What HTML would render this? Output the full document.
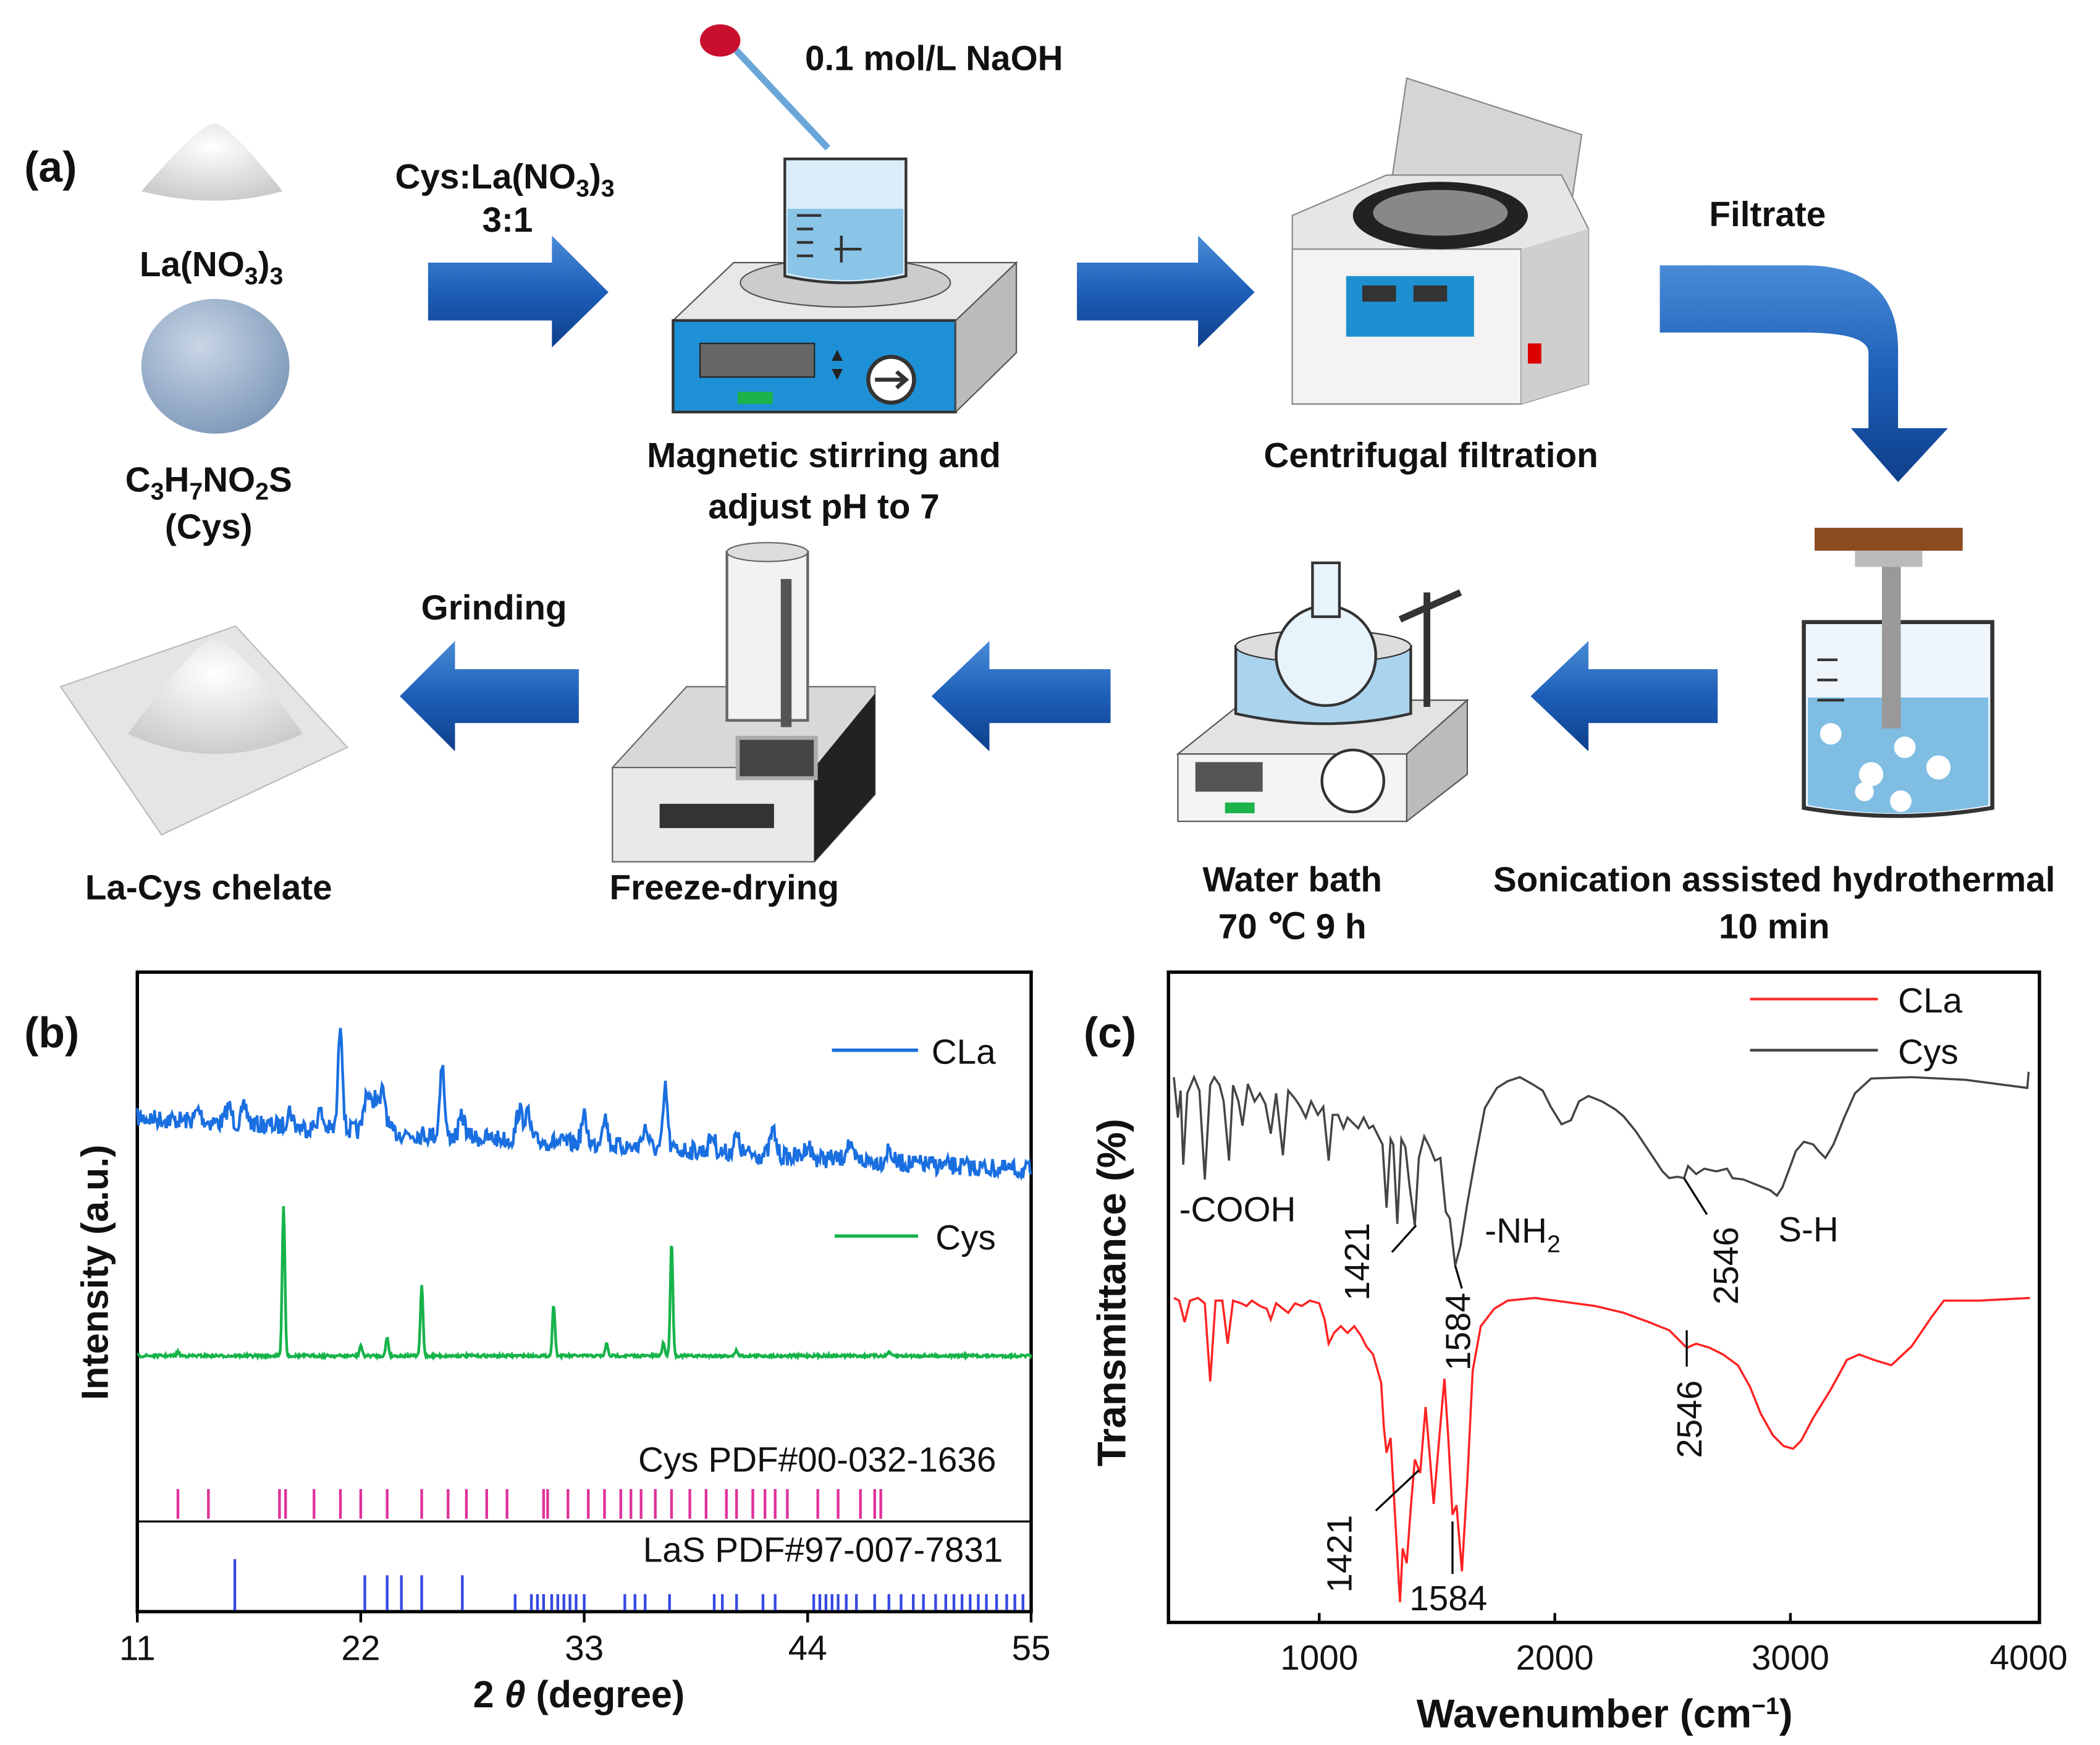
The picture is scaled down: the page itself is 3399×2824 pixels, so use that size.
<!DOCTYPE html>
<html><head><meta charset="utf-8"><style>
html,body{margin:0;padding:0;background:#fff;}
svg{display:block;}
text{font-family:"Liberation Sans",Arial,sans-serif;}
.b{font-weight:bold;font-size:26px;fill:#111;}
.t{font-size:26px;fill:#111;}
</style></head><body>
<svg id="s" width="3399" height="2824" viewBox="0 0 1560 1296" xmlns="http://www.w3.org/2000/svg">
<defs>
<linearGradient id="ar" x1="0" y1="0" x2="0" y2="1"><stop offset="0" stop-color="#4a8bd6"/><stop offset="0.5" stop-color="#1d5fb8"/><stop offset="1" stop-color="#0f3f8a"/></linearGradient>
<radialGradient id="sph" cx="0.4" cy="0.35" r="0.7"><stop offset="0" stop-color="#c9d6e6"/><stop offset="1" stop-color="#7d98b8"/></radialGradient>
<radialGradient id="pw" cx="0.5" cy="0.3" r="0.7"><stop offset="0" stop-color="#fff"/><stop offset="1" stop-color="#ccc"/></radialGradient>
</defs>

<!-- ===== (a) ===== -->
<text x="18" y="135" class="b" style="font-size:32px">(a)</text>
<path d="M105 142 Q150 90 160 92 Q170 92 210 142 Q160 156 105 142Z" fill="url(#pw)"/>
<text x="157" y="205" class="b" text-anchor="middle">La(NO<tspan font-size="18" dy="6">3</tspan><tspan dy="-6">)</tspan><tspan font-size="18" dy="6">3</tspan></text>
<ellipse cx="160" cy="272" rx="55" ry="50" fill="url(#sph)"/>
<text x="155" y="365" class="b" text-anchor="middle">C<tspan font-size="18" dy="6">3</tspan><tspan dy="-6">H</tspan><tspan font-size="18" dy="6">7</tspan><tspan dy="-6">NO</tspan><tspan font-size="18" dy="6">2</tspan><tspan dy="-6">S</tspan></text>
<text x="155" y="400" class="b" text-anchor="middle">(Cys)</text>

<path d="M318 195 H410 V175 L452 217 L410 258 V238 H318Z" fill="url(#ar)"/>
<path d="M800 195 H890 V175 L932 217 L890 258 V238 H800Z" fill="url(#ar)"/>
<text x="375" y="140" class="b" text-anchor="middle">Cys:La(NO<tspan font-size="18" dy="6">3</tspan><tspan dy="-6">)</tspan><tspan font-size="18" dy="6">3</tspan></text>
<text x="377" y="172" class="b" text-anchor="middle">3:1</text>

<!-- stirrer -->
<path d="M500 238 L545 195 H755 L710 238Z" fill="#e8e8e8" stroke="#555"/>
<rect x="500" y="238" width="210" height="68" fill="#1e90d6" stroke="#333" stroke-width="2"/>
<path d="M710 238 L755 195 V262 L710 306Z" fill="#bbb" stroke="#555"/>
<rect x="520" y="255" width="85" height="25" fill="#666" stroke="#222"/>
<rect x="548" y="291" width="26" height="9" fill="#1bb34a"/>
<circle cx="662" cy="282" r="17" fill="#fff" stroke="#333" stroke-width="3"/>
<path d="M650 282 H672 M666 276 L673 282 L666 288" stroke="#333" stroke-width="3" fill="none"/>
<text x="615" y="268" font-size="14" fill="#222">▲</text><text x="615" y="282" font-size="14" fill="#222">▼</text>
<ellipse cx="628" cy="210" rx="78" ry="18" fill="#ccc" stroke="#555"/>
<path d="M583 118 H673 V205 Q628 215 583 205Z" fill="#d9eef9" stroke="#333" stroke-width="2"/>
<path d="M585 155 H671 V203 Q628 213 585 203Z" fill="#8ac5e8"/>
<path d="M592 170 H604 M592 180 H604 M592 190 H604 M592 160 H610" stroke="#333" stroke-width="2"/>
<path d="M620 185 H640 M625 175 V195" stroke="#333" stroke-width="2"/>
<path d="M540 30 L615 110" stroke="#6aa7d8" stroke-width="5"/>
<ellipse cx="535" cy="30" rx="15" ry="12" fill="#c8102e"/>
<text x="598" y="52" class="b">0.1 mol/L NaOH</text>
<text x="612" y="347" class="b" text-anchor="middle">Magnetic stirring and</text>
<text x="612" y="385" class="b" text-anchor="middle">adjust pH to 7</text>

<!-- centrifuge -->
<path d="M1045 58 L1175 100 L1160 200 L1030 160Z" fill="#d5d5d5" stroke="#888"/>
<path d="M960 160 L1030 130 H1160 L1180 170 V285 L1130 300 H960Z" fill="#e6e6e6" stroke="#888"/>
<rect x="960" y="185" width="170" height="115" fill="#f3f3f3" stroke="#888"/>
<path d="M1130 185 L1180 170 V285 L1130 300Z" fill="#cfcfcf"/>
<ellipse cx="1070" cy="160" rx="65" ry="25" fill="#222"/>
<ellipse cx="1070" cy="158" rx="50" ry="17" fill="#888"/>
<rect x="1000" y="205" width="95" height="45" fill="#1e8fd0"/>
<rect x="1012" y="212" width="25" height="12" fill="#333"/><rect x="1050" y="212" width="25" height="12" fill="#333"/>
<rect x="1135" y="255" width="10" height="15" fill="#d00"/>
<text x="1063" y="347" class="b" text-anchor="middle">Centrifugal filtration</text>

<text x="1313" y="168" class="b" text-anchor="middle">Filtrate</text>
<path d="M1233 197 H1340 Q1410 197 1410 260 V318 H1447 L1410 358 L1375 318 H1388 V262 Q1388 247 1340 247 H1233Z" fill="url(#ar)"/>

<!-- sonicator -->
<rect x="1348" y="392" width="110" height="17" fill="#8b4a1f"/>
<rect x="1378" y="409" width="50" height="12" fill="#bbb"/>
<path d="M1340 462 H1480 V600 Q1410 612 1340 600Z" fill="#eef6fb" stroke="#333" stroke-width="3"/>
<path d="M1343 518 H1477 V598 Q1410 610 1343 598Z" fill="#7fbde3"/>
<rect x="1398" y="421" width="14" height="120" fill="#999"/>
<circle cx="1360" cy="545" r="8" fill="#fff"/><circle cx="1390" cy="575" r="9" fill="#fff"/><circle cx="1415" cy="555" r="8" fill="#fff"/><circle cx="1440" cy="570" r="9" fill="#fff"/><circle cx="1412" cy="595" r="8" fill="#fff"/><circle cx="1385" cy="588" r="7" fill="#fff"/>
<path d="M1350 490 H1365 M1350 505 H1365 M1350 520 H1370" stroke="#333" stroke-width="2"/>
<text x="1318" y="662" class="b" text-anchor="middle">Sonication assisted hydrothermal</text>
<text x="1318" y="697" class="b" text-anchor="middle">10 min</text>

<path d="M1276 497 H1180 V476 L1137 517 L1180 558 V537 H1276Z" fill="url(#ar)"/>
<path d="M825 497 H735 V476 L692 517 L735 558 V537 H825Z" fill="url(#ar)"/>
<path d="M430 497 H338 V476 L297 517 L338 558 V537 H430Z" fill="url(#ar)"/>
<text x="367" y="460" class="b" text-anchor="middle">Grinding</text>

<!-- water bath -->
<path d="M875 560 L925 520 H1090 L1045 560Z" fill="#e3e3e3" stroke="#555"/>
<rect x="875" y="560" width="170" height="50" fill="#f4f4f4" stroke="#555"/>
<path d="M1045 560 L1090 520 V575 L1045 610Z" fill="#bbb" stroke="#555"/>
<rect x="888" y="566" width="50" height="22" fill="#555"/>
<rect x="910" y="596" width="22" height="8" fill="#1bb34a"/>
<circle cx="1005" cy="580" r="23" fill="#fff" stroke="#333" stroke-width="2"/>
<path d="M918 480 V530 Q985 545 1048 530 V480Z" fill="#aad3ee" stroke="#333" stroke-width="2"/>
<ellipse cx="983" cy="480" rx="65" ry="12" fill="#ddd" stroke="#333"/>
<circle cx="985" cy="487" r="37" fill="#e8f4fb" stroke="#333" stroke-width="2"/>
<rect x="975" y="418" width="20" height="40" fill="#e8f4fb" stroke="#333" stroke-width="2"/>
<path d="M1060 440 V525 M1040 460 L1085 440" stroke="#333" stroke-width="5"/>
<text x="960" y="662" class="b" text-anchor="middle">Water bath</text>
<text x="960" y="697" class="b" text-anchor="middle">70 ℃ 9 h</text>

<!-- freeze dryer -->
<path d="M455 570 L510 510 H650 V590 L605 640 H455Z" fill="#d8d8d8" stroke="#666"/>
<rect x="455" y="570" width="150" height="70" fill="#e9e9e9" stroke="#666"/>
<path d="M605 570 L650 515 V590 L605 640Z" fill="#222"/>
<rect x="548" y="548" width="58" height="30" fill="#444" stroke="#aaa" stroke-width="3"/>
<rect x="490" y="597" width="85" height="18" fill="#333"/>
<rect x="540" y="410" width="60" height="125" fill="#f2f2f2" stroke="#666" stroke-width="2"/>
<ellipse cx="570" cy="410" rx="30" ry="7" fill="#ddd" stroke="#666"/>
<rect x="580" y="430" width="8" height="110" fill="#555"/>
<text x="538" y="668" class="b" text-anchor="middle">Freeze-drying</text>

<path d="M45 510 L175 465 L258 555 L120 620Z" fill="#e5e5e5" stroke="#bbb"/>
<path d="M95 545 Q150 470 160 475 Q180 480 225 545 Q160 575 95 545Z" fill="url(#pw)"/>
<text x="155" y="668" class="b" text-anchor="middle">La-Cys chelate</text>

<!-- ===== (b) ===== -->
<text x="18" y="778" class="b" style="font-size:32px">(b)</text>
<rect x="102" y="722" width="664" height="475" fill="none" stroke="#000" stroke-width="2.5"/>
<line x1="102" y1="1130" x2="766" y2="1130" stroke="#000" stroke-width="1.5"/>
<g id="bticks"></g>
<text x="102" y="1233" class="t" text-anchor="middle">11</text>
<text x="268" y="1233" class="t" text-anchor="middle">22</text>
<text x="434" y="1233" class="t" text-anchor="middle">33</text>
<text x="600" y="1233" class="t" text-anchor="middle">44</text>
<text x="766" y="1233" class="t" text-anchor="middle">55</text>
<text x="430" y="1268" class="b" style="font-size:28px" text-anchor="middle">2 <tspan font-style="italic">θ</tspan> (degree)</text>
<text transform="translate(80,945) rotate(-90)" class="b" style="font-size:28px" text-anchor="middle">Intensity (a.u.)</text>
<line x1="618" y1="780" x2="682" y2="780" stroke="#1a6fe0" stroke-width="2.5"/><text x="692" y="790" class="t">CLa</text>
<line x1="620" y1="918" x2="682" y2="918" stroke="#16b34a" stroke-width="2.5"/><text x="695" y="928" class="t">Cys</text>
<path id="cla" fill="none" stroke="#1a6fe0" stroke-width="2"/>
<path id="cysb" fill="none" stroke="#16b34a" stroke-width="2"/>
<g id="mag" stroke="#e0309a" stroke-width="2"></g>
<g id="bl" stroke="#3448e0" stroke-width="2"></g>
<text x="740" y="1093" class="t" text-anchor="end">Cys PDF#00-032-1636</text>
<text x="745" y="1160" class="t" text-anchor="end">LaS PDF#97-007-7831</text>

<!-- ===== (c) ===== -->
<text x="805" y="778" class="b" style="font-size:32px">(c)</text>
<rect x="868" y="722" width="647" height="483" fill="none" stroke="#000" stroke-width="2.5"/>
<g stroke="#000" stroke-width="2"><line x1="980" y1="1205" x2="980" y2="1198"/><line x1="1155" y1="1205" x2="1155" y2="1198"/><line x1="1330" y1="1205" x2="1330" y2="1198"/></g>
<text x="980" y="1240" class="t" text-anchor="middle">1000</text>
<text x="1155" y="1240" class="t" text-anchor="middle">2000</text>
<text x="1330" y="1240" class="t" text-anchor="middle">3000</text>
<text x="1507" y="1240" class="t" text-anchor="middle">4000</text>
<text x="1192" y="1283" class="b" style="font-size:30px" text-anchor="middle">Wavenumber (cm<tspan font-size="18" dy="-10">−1</tspan><tspan dy="10">)</tspan></text>
<text transform="translate(836,960) rotate(-90)" class="b" style="font-size:30px" text-anchor="middle">Transmittance (%)</text>
<line x1="1300" y1="742" x2="1395" y2="742" stroke="#f33" stroke-width="2"/><text x="1410" y="752" class="t">CLa</text>
<line x1="1300" y1="780" x2="1395" y2="780" stroke="#444" stroke-width="2"/><text x="1410" y="790" class="t">Cys</text>
<path id="cysc" fill="none" stroke="#444" stroke-width="1.6"/>
<path id="clac" fill="none" stroke="#f22" stroke-width="1.6"/>
<text x="876" y="907" class="t">-COOH</text>
<text x="1103" y="923" class="t">-NH<tspan font-size="18" dy="7">2</tspan></text>
<text x="1321" y="922" class="t">S-H</text>
<text transform="translate(1017,966) rotate(-90)" class="t">1421</text>
<text transform="translate(1092,1018) rotate(-90)" class="t">1584</text>
<text transform="translate(1291,969) rotate(-90)" class="t">2546</text>
<text transform="translate(1264,1083) rotate(-90)" class="t">2546</text>
<text transform="translate(1004,1183) rotate(-90)" class="t">1421</text>
<text x="1047" y="1196" class="t">1584</text>
<g stroke="#000" stroke-width="1.5">
<line x1="1034" y1="930" x2="1052" y2="910"/><line x1="1081" y1="940" x2="1086" y2="957"/>
<line x1="1251" y1="875" x2="1268" y2="902"/><line x1="1253" y1="988" x2="1253" y2="1015"/>
<line x1="1022" y1="1122" x2="1054" y2="1092"/><line x1="1079" y1="1130" x2="1079" y2="1169"/>
</g>
</svg>
<script>
var NS="http://www.w3.org/2000/svg";
function bx(v){return 102+(v-11)*15.09;}
var bt=document.getElementById('bticks');
[11,22,33,44,55].forEach(function(v){var l=document.createElementNS(NS,'line');l.setAttribute('x1',bx(v));l.setAttribute('x2',bx(v));l.setAttribute('y1',1197);l.setAttribute('y2',1205);l.setAttribute('stroke','#000');l.setAttribute('stroke-width',2);bt.appendChild(l);});
var seed=7;function rnd(){seed=(seed*16807)%2147483647;return seed/2147483647;}
function peaks(v,list,w){var s=0;list.forEach(function(p){var d=(v-p[0])/(p[2]||w);s+=p[1]*Math.exp(-d*d);});return s;}
var cp=[[21,80,0.15],[26,55,0.15],[37,45,0.15],[22.3,30],[23.1,30],[22.7,25],[29.8,22],[30.2,20],[33,20],[34,22],[36,15],[42.3,18],[18.5,12],[15.5,12],[16.3,12],[14,8],[20,12],[27,15],[39.3,12],[40.5,12],[44,10],[46,12],[48,10]];
var d="";for(var v=11;v<=55;v+=0.05){var base=830+(v-11)*0.9;var y=base+(rnd()-0.5)*14-peaks(v,cp,0.2);d+=(d?"L":"M")+bx(v).toFixed(1)+" "+y.toFixed(1);}
document.getElementById('cla').setAttribute('d',d);
var gp=[[18.2,112],[37.3,85],[25,52],[31.5,38],[23.3,14],[22,8],[34.1,9],[36.9,10],[13,3],[40.5,4],[48,3]];
d="";for(v=11;v<=55;v+=0.04){var y=1007+(rnd()-0.5)*2-peaks(v,gp,0.09);d+=(d?"L":"M")+bx(v).toFixed(1)+" "+y.toFixed(1);}
document.getElementById('cysb').setAttribute('d',d);
var mg=[13,14.5,18,18.3,19.7,21,22,23.3,25,26.3,27.2,28.2,29.2,31,31.2,32.2,33.2,34,34.8,35.3,35.8,36.5,37.3,38.2,39,40,40.5,41.3,41.9,42.4,43,44.5,45.5,46.6,47.3,47.6];
var g=document.getElementById('mag');mg.forEach(function(v){var l=document.createElementNS(NS,'line');l.setAttribute('x1',bx(v));l.setAttribute('x2',bx(v));l.setAttribute('y1',1106);l.setAttribute('y2',1128);g.appendChild(l);});
var bl=[15.8,22.2,23.3,24,25,27,29.6,30.4,30.7,31,31.4,31.7,32,32.3,32.6,33,35,35.5,36,37.2,39.4,39.8,40.5,41.8,42.4,44.3,44.6,44.9,45.2,45.5,45.9,46.4,47.3,48,48.6,49.2,49.7,50.3,50.8,51.2,51.6,52,52.4,52.8,53.3,53.8,54.2,54.6];
g=document.getElementById('bl');bl.forEach(function(v,i){var l=document.createElementNS(NS,'line');l.setAttribute('x1',bx(v));l.setAttribute('x2',bx(v));l.setAttribute('y1',i==0?1158:(i<6?1170:1184));l.setAttribute('y2',1196);g.appendChild(l);});
function pl(pts){return "M"+pts.map(function(p){return p[0]+" "+p[1];}).join("L");}
var cy=[[872,800],[875,830],[877,810],[879,865],[882,812],[887,800],[891,810],[895,876],[899,806],[902,800],[906,806],[909,818],[913,862],[916,806],[920,818],[923,836],[927,805],[932,818],[936,812],[940,820],[944,842],[948,812],[953,858],[957,810],[962,816],[966,822],[970,830],[974,818],[979,828],[983,822],[987,862],[990,828],[994,828],[998,838],[1001,830],[1005,834],[1009,838],[1013,830],[1017,838],[1020,836],[1024,844],[1027,850],[1030,897],[1033,846],[1035,850],[1038,909],[1041,846],[1044,852],[1047,880],[1051,910],[1054,860],[1058,844],[1062,852],[1066,862],[1070,860],[1074,900],[1077,905],[1081,940],[1085,925],[1090,894],[1096,860],[1103,823],[1112,808],[1120,803],[1129,800],[1138,805],[1146,810],[1152,822],[1160,835],[1167,832],[1173,818],[1180,814],[1190,818],[1200,824],[1206,829],[1215,840],[1225,855],[1235,870],[1240,875],[1246,874],[1251,875],[1254,866],[1260,872],[1266,868],[1275,870],[1283,868],[1287,875],[1295,876],[1305,880],[1315,884],[1320,888],[1324,882],[1330,866],[1334,855],[1340,848],[1347,850],[1351,855],[1356,860],[1362,850],[1370,830],[1378,812],[1390,801],[1420,800],[1460,802],[1506,808],[1507,796]];
document.getElementById('cysc').setAttribute('d',pl(cy));
var cl=[[872,964],[876,966],[880,982],[884,966],[890,964],[895,968],[899,1026],[903,966],[908,966],[912,998],[916,966],[922,968],[926,970],[930,966],[936,970],[941,972],[944,980],[948,968],[953,972],[957,975],[962,968],[967,970],[973,966],[980,968],[984,980],[987,998],[991,990],[996,985],[1001,990],[1006,985],[1011,992],[1015,1000],[1020,1006],[1026,1027],[1028,1060],[1030,1079],[1033,1068],[1036,1120],[1040,1190],[1042,1150],[1045,1161],[1048,1120],[1051,1084],[1055,1094],[1059,1045],[1062,1080],[1065,1117],[1069,1070],[1073,1024],[1076,1070],[1079,1125],[1082,1118],[1086,1167],[1090,1100],[1094,1018],[1100,985],[1110,972],[1120,966],[1140,964],[1163,967],[1185,970],[1206,975],[1225,982],[1240,988],[1253,1001],[1260,998],[1270,1001],[1280,1006],[1291,1014],[1300,1030],[1308,1050],[1317,1066],[1325,1074],[1332,1076],[1338,1070],[1347,1053],[1360,1032],[1372,1010],[1381,1006],[1392,1010],[1405,1014],[1420,1000],[1435,978],[1444,966],[1470,966],[1508,964]];
document.getElementById('clac').setAttribute('d',pl(cl));
</script>
</body></html>
